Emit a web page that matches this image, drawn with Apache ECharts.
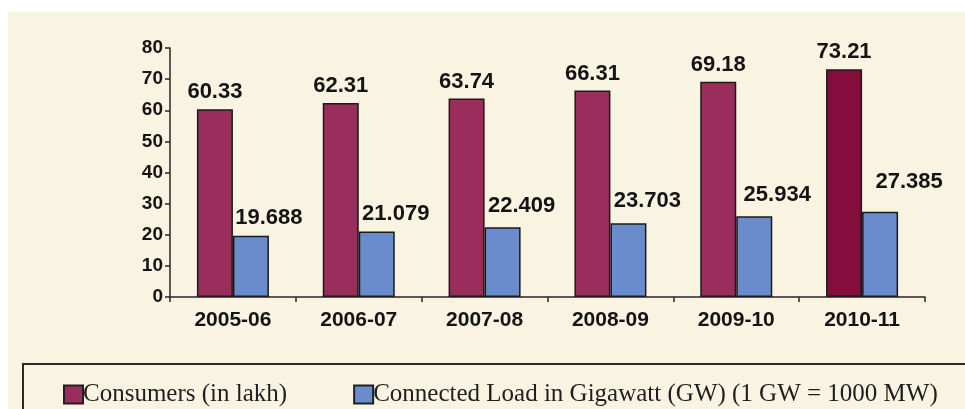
<!DOCTYPE html>
<html>
<head>
<meta charset="utf-8">
<script src="https://cdn.jsdelivr.net/npm/echarts@6/dist/echarts.min.js"></script>
<style>
  html, body { margin: 0; padding: 0; background: #ffffff; }
  #chart { width: 965px; height: 409px; }
</style>
</head>
<body>
<div id="chart"></div>
<script>
// Consumers and connected load by financial year
const years = ['2005-06', '2006-07', '2007-08', '2008-09', '2009-10', '2010-11'];
const consumers = [60.33, 62.31, 63.74, 66.31, 69.18, 73.21];
const connectedLoad = [19.688, 21.079, 22.409, 23.703, 25.934, 27.385];
const yTicks = [0, 10, 20, 30, 40, 50, 60, 70, 80];

const seriesNames = ['Consumers (in lakh)', 'Connected Load in Gigawatt (GW) (1 GW = 1000 MW)'];

// label nudges for the load values (x, y in px)
const loadLabelShift = [[18, -1], [19, 0], [19, -4], [19, -5], [23, -4], [29, -13]];

const RED = '#992d5c';
const RED_DARK = '#840d3b';
const BLUE = '#6a8ccc';
const EDGE = '#1a1a1a';
const INK = '#141414';

const chart = echarts.init(document.getElementById('chart'), null, { renderer: 'canvas' });

const valueLabel = {
  show: true,
  position: 'top',
  distance: 6,
  color: INK,
  fontFamily: 'Liberation Sans',
  fontWeight: 'bold',
  fontSize: 22
};

chart.setOption({
  animation: false,
  backgroundColor: '#ffffff',
  graphic: [
    {
      type: 'rect',
      z: -10,
      silent: true,
      shape: { x: 8, y: 12, width: 1000, height: 420 },
      style: { fill: '#f8f4e1' }
    },
    {
      type: 'rect',
      z: -5,
      silent: true,
      shape: { x: 23, y: 364, width: 1000, height: 100 },
      style: { fill: 'none', stroke: '#2a2a2a', lineWidth: 2 }
    }
  ],
  grid: { left: 170, right: 40, top: 48, bottom: 112, containLabel: false },
  legend: {
    left: 58,
    top: 377,
    icon: 'rect',
    itemWidth: 19,
    itemHeight: 18,
    itemGap: 66,
    itemStyle: { borderColor: '#202020', borderWidth: 2 },
    textStyle: {
      fontFamily: 'Liberation Serif',
      fontSize: 25,
      color: '#1e1e1e',
      padding: [0, 0, 0, -5]
    },
    data: seriesNames
  },
  xAxis: {
    type: 'category',
    data: years,
    axisLine: { lineStyle: { color: '#262626', width: 1.5 } },
    axisTick: { show: true, inside: false, length: 5, lineStyle: { color: '#262626', width: 1.5 } },
    axisLabel: {
      margin: 13,
      color: INK,
      fontFamily: 'Liberation Sans',
      fontWeight: 'bold',
      fontSize: 21
    },
    splitLine: { show: false }
  },
  yAxis: {
    type: 'value',
    min: yTicks[0],
    max: yTicks[yTicks.length - 1],
    interval: yTicks[1] - yTicks[0],
    axisLine: { show: true, lineStyle: { color: '#262626', width: 1.5 } },
    axisTick: { show: true, inside: false, length: 5, lineStyle: { color: '#262626', width: 1.5 } },
    axisLabel: {
      margin: 7,
      color: INK,
      fontFamily: 'Liberation Sans',
      fontWeight: 'bold',
      fontSize: 19
    },
    splitLine: { show: false }
  },
  series: [
    {
      name: seriesNames[0],
      type: 'bar',
      barWidth: 36,
      barGap: '0%',
      itemStyle: { color: RED, borderColor: EDGE, borderWidth: 1.5 },
      label: valueLabel,
      data: consumers.map((v, i) => i === consumers.length - 1
        ? { value: v, itemStyle: { color: RED_DARK } }
        : v)
    },
    {
      name: seriesNames[1],
      type: 'bar',
      barWidth: 36,
      barGap: '0%',
      itemStyle: { color: BLUE, borderColor: EDGE, borderWidth: 1.5 },
      label: valueLabel,
      data: connectedLoad.map((v, i) => ({
        value: v,
        label: { offset: loadLabelShift[i] }
      }))
    }
  ]
});
</script>
</body>
</html>
